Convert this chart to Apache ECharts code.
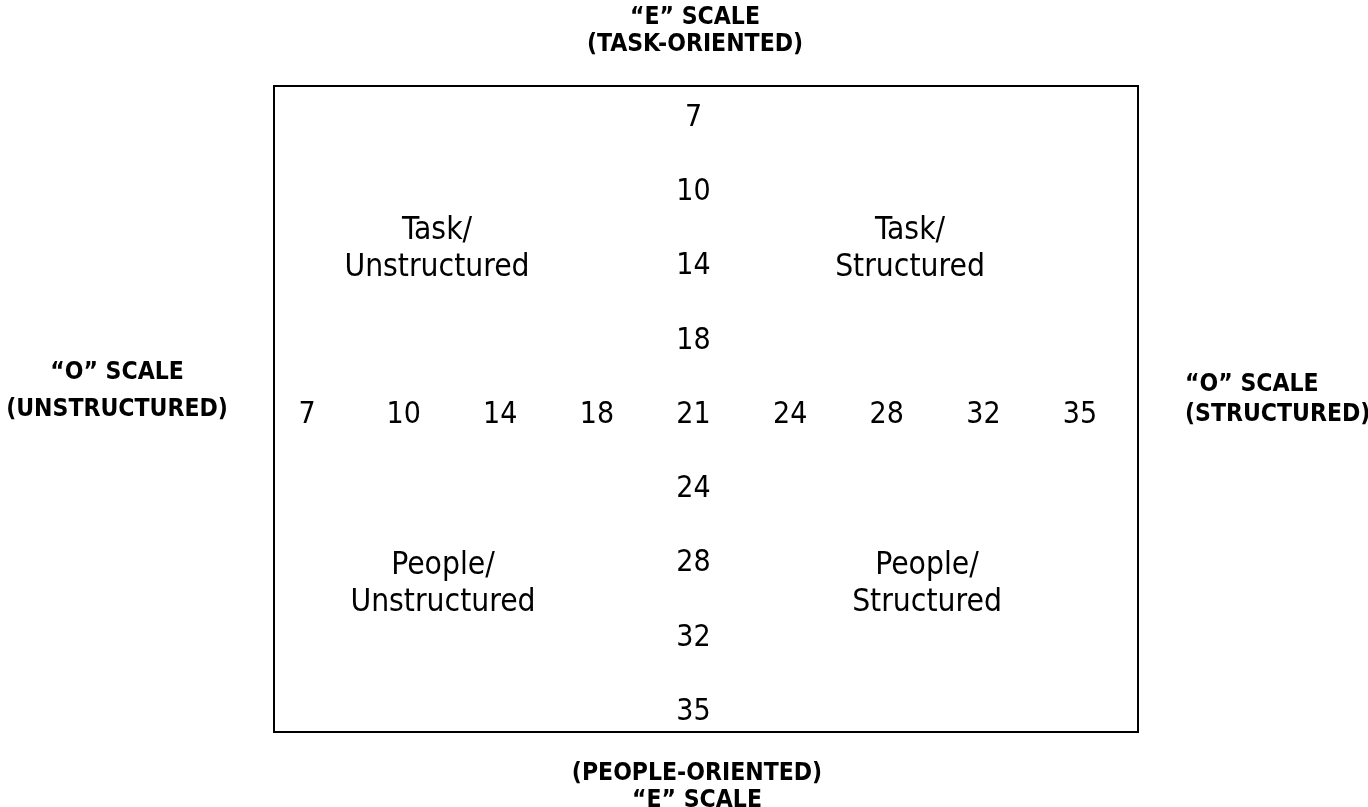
<!DOCTYPE html>
<html><head><meta charset="utf-8">
<script src="https://cdn.jsdelivr.net/npm/echarts@6/dist/echarts.min.js"></script>
<style>html,body{margin:0;padding:0;background:#fff}#c{width:1368px;height:807px}</style>
</head><body><div id="c"></div>
<script>
// "O" scale (horizontal, unstructured -> structured)
const oScale = [7, 10, 14, 18, 21, 24, 28, 32, 35];
// "E" scale (vertical, task-oriented at top -> people-oriented at bottom)
const eScale = [7, 10, 14, 18, 21, 24, 28, 32, 35];
// quadrant names: TL, TR, BL, BR
const quadrantLabels = ['Task/\nUnstructured', 'Task/\nStructured', 'People/\nUnstructured', 'People/\nStructured'];
const topTitle = ['\u201CE\u201D SCALE', '(TASK-ORIENTED)'];
const bottomTitle = ['(PEOPLE-ORIENTED)', '\u201CE\u201D SCALE'];
const leftTitle = ['\u201CO\u201D SCALE', '(UNSTRUCTURED)'];
const rightTitle = ['\u201CO\u201D SCALE', '(STRUCTURED)'];

const FONT = '"DejaVu Sans Condensed", "DejaVu Sans", sans-serif';
const mid = oScale.indexOf(21);

const hPoints = oScale.map((v, i) => [i, mid, v]);
const vPoints = eScale.map((v, j) => [mid, j, v]).filter(p => p[1] !== mid);

const chart = echarts.init(document.getElementById('c'), null, {renderer: 'canvas'});

function txt(lines, x, y, bold, size, align, lh) {
  return {
    type: 'text', x: x, y: y, silent: true,
    style: {
      text: lines.join('\n'), fill: '#000',
      font: (bold ? 'bold ' : '') + size + 'px ' + FONT,
      textAlign: align || 'center', textVerticalAlign: 'middle',
      lineHeight: lh
    }
  };
}

chart.setOption({
  animation: false,
  backgroundColor: '#fff',
  grid: {left: 274, top: 86, width: 864, height: 646, show: true, borderColor: '#000', borderWidth: 2, backgroundColor: 'transparent'},
  xAxis: {type: 'value', min: -0.342, max: 8.6, show: false},
  yAxis: {type: 'value', min: -0.431, max: 8.27, inverse: true, show: false},
  series: [{
    type: 'scatter', symbol: 'circle', symbolSize: 0, data: hPoints.concat(vPoints),
    label: {show: true, position: 'inside', color: '#000', opacity: 1, fontSize: 30, fontFamily: FONT,
      textBorderWidth: 0, formatter: p => String(p.value[2])}
  }],
  graphic: [
    txt(topTitle, 695, 31, true, 24.5, 'center', 27),
    txt(bottomTitle, 697, 787, true, 24.5, 'center', 27),
    txt(leftTitle, 117, 391, true, 24.5, 'center', 37),
    txt(rightTitle, 1185, 400, true, 24.5, 'left', 30),
    txt([quadrantLabels[0]], 437, 249, false, 31.5, 'center', 37),
    txt([quadrantLabels[1]], 910, 249, false, 31.5, 'center', 37),
    txt([quadrantLabels[2]], 443, 584, false, 31.5, 'center', 37),
    txt([quadrantLabels[3]], 927, 584, false, 31.5, 'center', 37)
  ]
});
</script></body></html>
